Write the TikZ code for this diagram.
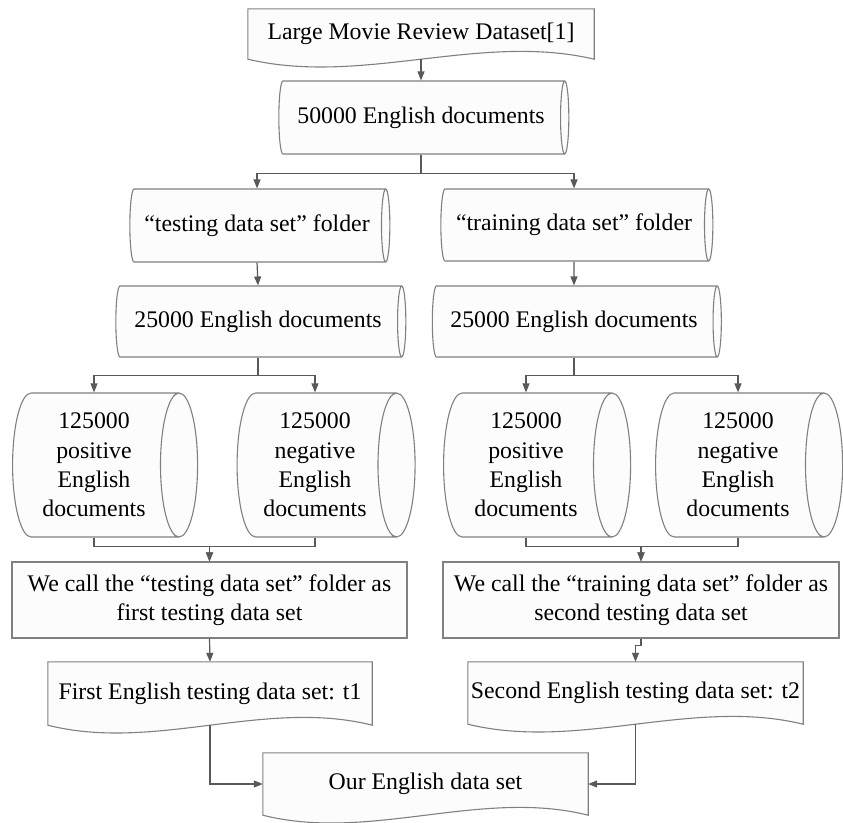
\documentclass[tikz,border=0pt]{standalone}
\usepackage{fontspec}
\setmainfont{Liberation Serif}
\usetikzlibrary{arrows.meta,shapes.geometric,backgrounds,calc}
\definecolor{edgegray}{RGB}{128,128,128}
\definecolor{linegray}{RGB}{89,89,89}
\definecolor{boxfill}{RGB}{252,252,252}

\begin{document}
\begin{tikzpicture}[
    x=1pt, y=-1pt,
    font=\fontsize{23.8}{29.3}\selectfont,
    % cylinder lying on its side: "height" runs along x, "width" along y
    store/.style={cylinder, draw=edgegray, fill=boxfill, line width=1.1pt, aspect=0.35, inner sep=1pt, align=center},
    doc/.style={rectangle, inner sep=2pt, align=center},
    procbox/.style={rectangle, draw=edgegray, fill=boxfill, line width=1.1pt, inner sep=2pt, align=center},
    outline/.style={draw=edgegray, fill=boxfill, line width=1.1pt},
    link/.style={draw=linegray, line width=1.2pt},
    arrow/.style={link, -{Triangle[length=9pt, width=7pt]}}
]
    \useasboundingbox (0,0) rectangle (843,822);

    % source and first split
    \node[doc, minimum width=346pt, minimum height=50pt] (src) at (421,34) {Large Movie Review Dataset[1]};
    \node[store, minimum height=290pt, minimum width=73pt] (all) at (421,117.5) {50000 English documents};
    \node[store, minimum height=260pt, minimum width=73pt] (testdir) at (257,225.5) {“testing data set” folder};
    \node[store, minimum height=272pt, minimum width=72pt] (traindir) at (574,225) {“training data set” folder};
    \node[store, minimum height=290pt, minimum width=71pt] (testall) at (258,321.5) {25000 English documents};
    \node[store, minimum height=289pt, minimum width=71pt] (trainall) at (574,321.5) {25000 English documents};

    % positive / negative parts
    \node[store, minimum height=185pt, minimum width=144pt] (testpos) at (94,465) {125000\\positive\\English\\documents};
    \node[store, minimum height=178pt, minimum width=144pt] (testneg) at (315,465) {125000\\negative\\English\\documents};
    \node[store, minimum height=187pt, minimum width=144pt] (trainpos) at (526,465) {125000\\positive\\English\\documents};
    \node[store, minimum height=187pt, minimum width=144pt] (trainneg) at (738,465) {125000\\negative\\English\\documents};

    % renamed sets
    \node[procbox, minimum width=395pt, minimum height=76pt] (firstset) at (209.5,600) {We call the “testing data set” folder as\\first testing data set};
    \node[procbox, minimum width=396pt, minimum height=76pt] (secondset) at (641,600) {We call the “training data set” folder as\\second testing data set};
    \node[doc, minimum width=324pt, minimum height=63pt] (t1) at (210,693.5) {First English testing data set: t1};
    \node[doc, minimum width=335pt, minimum height=62pt] (t2) at (635.5,693) {Second English testing data set: t2};
    \node[doc, minimum width=325pt, minimum height=62pt] (ours) at (425.5,784) {Our English data set};

    % document outlines with wavy bottom
    \begin{scope}[on background layer]
        \foreach \n in {src,t1,t2,ours}
            \draw[outline] (\n.south west) -- (\n.north west) -- (\n.north east) -- (\n.south east)
                .. controls ($(\n.south east)!0.33!(\n.south west)+(0,-27)$) and ($(\n.south east)!0.67!(\n.south west)+(0,27)$) .. (\n.south west) -- cycle;
    \end{scope}

    \draw[arrow] (src.south) -- (src.south |- all.north);
    \draw[arrow] (all.south) -- ++(0,19) -| (testdir.north);
    \draw[arrow] (all.south) -- ++(0,19) -| (traindir.north);
    \draw[arrow] (testdir.south) -- (testall.north);
    \draw[arrow] (traindir.south) -- (trainall.north);
    \draw[arrow] (testall.south) -- ++(0,18) -| (testpos.north);
    \draw[arrow] (testall.south) -- ++(0,18) -| (testneg.north);
    \draw[arrow] (trainall.south) -- ++(0,18) -| (trainpos.north);
    \draw[arrow] (trainall.south) -- ++(0,18) -| (trainneg.north);
    \draw[arrow] (testpos.south) -- ++(0,9) -| (firstset.north);
    \draw[arrow] (testneg.south) -- ++(0,9) -| (firstset.north);
    \draw[arrow] (trainpos.south) -- ++(0,9) -| (secondset.north);
    \draw[arrow] (trainneg.south) -- ++(0,9) -| (secondset.north);
    \draw[arrow] (firstset.south) -- (t1.north);
    \draw[arrow] (secondset.south) -- ++(0,7) -| (t2.north);
    \draw[arrow] (t1.south) |- (ours.west);
    \draw[arrow] (t2.south) |- (ours.east);
\end{tikzpicture}
\end{document}
